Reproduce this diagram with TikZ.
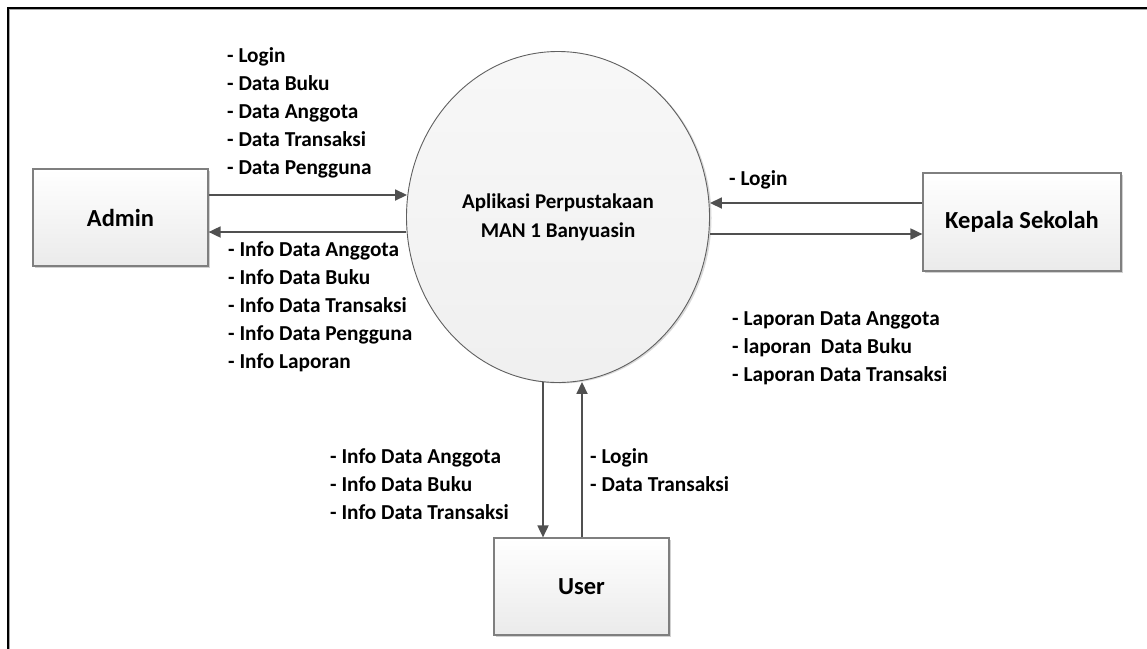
\documentclass[tikz,border=0pt]{standalone}
\usepackage{fontspec}
\setmainfont{Carlito}
\usetikzlibrary{arrows.meta,shapes.geometric,shadows}
\definecolor{arrowgray}{HTML}{505050}
\definecolor{boxborder}{HTML}{7F7F7F}
\definecolor{circborder}{HTML}{606060}
\tikzset{
  entity/.style={draw=boxborder, line width=1.2pt, top color=white, bottom color=black!8,
    minimum width=175pt, minimum height=97pt, inner sep=0pt,
    font=\fontsize{24.5}{29}\selectfont\bfseries,
    drop shadow={shadow xshift=2pt, shadow yshift=-2pt, opacity=0.18, fill=black}},
  process/.style={ellipse, draw=circborder, line width=0.9pt, top color=black!3, bottom color=black!6,
    minimum width=303pt, minimum height=331pt, inner sep=0pt, align=center,
    font=\fontsize{21}{29}\selectfont\bfseries,
    drop shadow={shadow xshift=2pt, shadow yshift=-1pt, opacity=0.15, fill=black}},
  lbl/.style={anchor=base west, inner sep=0pt, font=\fontsize{21.3}{28}\selectfont\bfseries},
  flow/.style={draw=arrowgray, line width=1.8pt, -{Triangle[length=12pt,width=11pt]}, arrowgray},
}
\begin{document}
\begin{tikzpicture}[x=1pt,y=-1pt]
\useasboundingbox (0,0) rectangle (1147,648);
% frame
\draw[black!35, line width=1.2pt] (9.5,700) -- (9.5,9.5) -- (1200,9.5);
\draw[black, line width=1.8pt] (8,700) -- (8,8) -- (1200,8);

% nodes
\node[entity] (admin) at (120.5,217.5) {Admin};
\node[entity, minimum width=198pt, minimum height=98pt] (kepala) at (1022,222) {Kepala Sekolah};
\node[entity] (user) at (581.5,586.5) {User};
\node[process] (proc) at (558,217) {Aplikasi Perpustakaan\\MAN 1 Banyuasin};

% connector levels
\coordinate (ya1) at (0,195);
\coordinate (ya2) at (0,232);
\coordinate (yk1) at (0,203);
\coordinate (yk2) at (0,234);
\coordinate (xu1) at (543,0);
\coordinate (xu2) at (582,0);

\draw[flow] (admin.east |- ya1) -- ([xshift=1pt]proc.west |- ya1);
\draw[flow] (proc.west |- ya2) -- (admin.east |- ya2);
\draw[flow] (kepala.west |- yk1) -- (proc.east |- yk1);
\draw[flow] (proc.east |- yk2) -- (kepala.west |- yk2);
\draw[flow] ([yshift=1pt]proc.south -| xu1) -- (user.north -| xu1);
\draw[flow] (user.north -| xu2) -- ([yshift=1pt]proc.south -| xu2);

% labels
\foreach \t [count=\i] in {- Login, - Data Buku, - Data Anggota, - Data Transaksi, - Data Pengguna}
  \node[lbl, name=ain\i] at (227,{62+28*(\i-1)}) {\t};
\foreach \t [count=\i] in {- Info Data Anggota, - Info Data Buku, - Info Data Transaksi, - Info Data Pengguna, - Info Laporan}
  \node[lbl, name=aout\i] at (228,{256+28*(\i-1)}) {\t};
\node[lbl] (kin1) at (729,185) {- Login};
\node[lbl] (kout1) at (732,325) {- Laporan Data Anggota};
\node[lbl] (kout2) at (732,353) {- laporan~ Data Buku};
\node[lbl] (kout3) at (732,381) {- Laporan Data Transaksi};
\foreach \t [count=\i] in {- Info Data Anggota, - Info Data Buku, - Info Data Transaksi}
  \node[lbl, name=uout\i] at (330,{463+28*(\i-1)}) {\t};
\node[lbl] (uin1) at (590,463) {- Login};
\node[lbl] (uin2) at (590,491) {- Data Transaksi};
\end{tikzpicture}
\end{document}
